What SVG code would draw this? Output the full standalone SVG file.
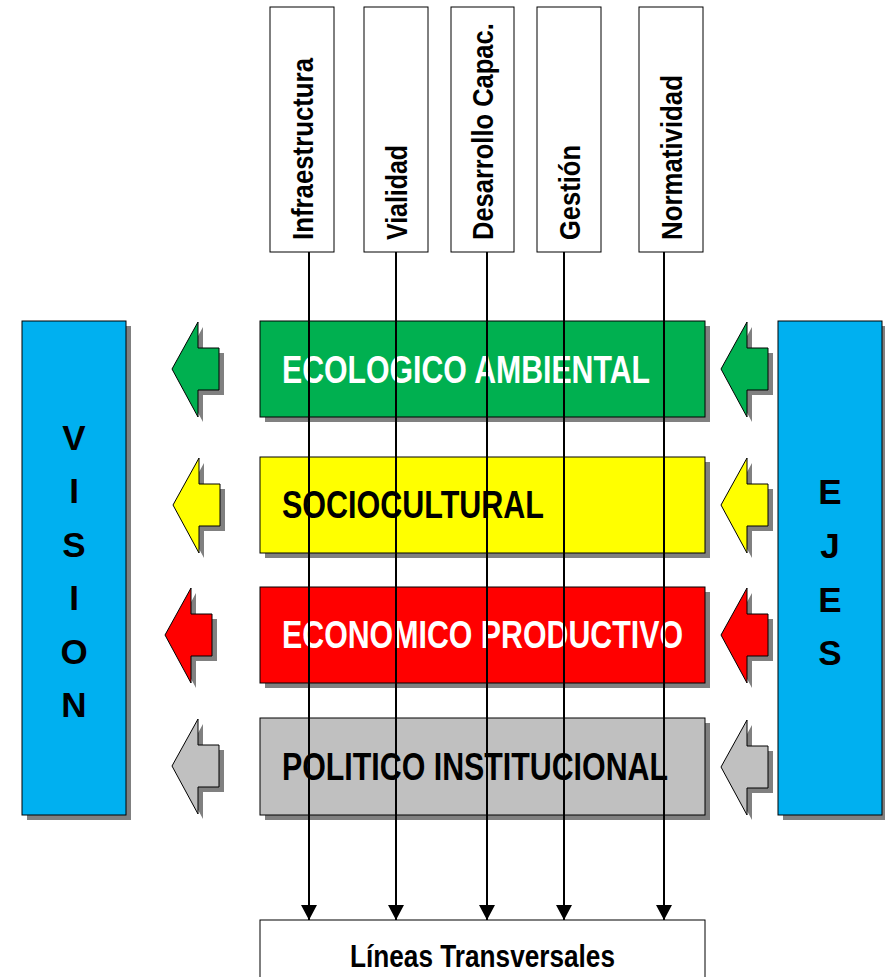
<svg xmlns="http://www.w3.org/2000/svg" width="885" height="977" viewBox="0 0 885 977">
<style>
.box{stroke:#000;stroke-width:1}
.shadow{fill:#808080}
.lbl{font-family:"Liberation Sans",Arial,sans-serif;font-weight:bold}
.big{font-size:39px}
.vert{font-size:30px;fill:#000}
.letter{font-size:35px;fill:#000;text-anchor:middle}
.conn{stroke:#000;stroke-width:2;fill:none}
</style>
<defs>
<path id="arr" d="M0,48 L26,1 L26,27 L47,27 L47,69 L26,69 L26,96 Z"/>
<marker id="ah" markerWidth="15" markerHeight="16" refX="15" refY="8" orient="auto" markerUnits="userSpaceOnUse" viewBox="0 0 15 16">
<path d="M0,0 L15,8 L0,16 Z" fill="#000"/>
</marker>
</defs>
<rect width="885" height="977" fill="#fff"/>

<g id="vision">
<rect class="shadow" x="27" y="326" width="104" height="494"/>
<rect class="box" x="22" y="321" width="104" height="494" fill="#00B0F0"/>
<text class="lbl letter" x="74" y="450">V</text>
<text class="lbl letter" x="74" y="503">I</text>
<text class="lbl letter" x="74" y="557">S</text>
<text class="lbl letter" x="74" y="610">I</text>
<text class="lbl letter" x="74" y="664">O</text>
<text class="lbl letter" x="74" y="717">N</text>
</g>

<g id="ejes">
<rect class="shadow" x="783" y="326" width="104" height="494"/>
<rect class="box" x="778" y="321" width="104" height="494" fill="#00B0F0"/>
<text class="lbl letter" x="830" y="504">E</text>
<text class="lbl letter" x="830" y="558">J</text>
<text class="lbl letter" x="830" y="612">E</text>
<text class="lbl letter" x="830" y="665">S</text>
</g>

<g id="ecologico">
<rect class="shadow" x="265" y="326" width="445" height="96"/>
<rect class="box" x="260" y="321" width="445" height="96" fill="#00B050"/>
<text class="lbl big" x="282" y="383" fill="#fff" textLength="368" lengthAdjust="spacingAndGlyphs">ECOLOGICO AMBIENTAL</text>
</g>
<g id="sociocultural">
<rect class="shadow" x="265" y="462" width="445" height="96"/>
<rect class="box" x="260" y="457" width="445" height="96" fill="#FFFF00"/>
<text class="lbl big" x="282" y="518" fill="#000" textLength="262" lengthAdjust="spacingAndGlyphs">SOCIOCULTURAL</text>
</g>
<g id="economico">
<rect class="shadow" x="265" y="592" width="445" height="96"/>
<rect class="box" x="260" y="587" width="445" height="96" fill="#FF0000"/>
<text class="lbl big" x="282" y="648" fill="#fff" textLength="401" lengthAdjust="spacingAndGlyphs">ECONOMICO PRODUCTIVO</text>
</g>
<g id="politico">
<rect class="shadow" x="265" y="723" width="445" height="97"/>
<rect class="box" x="260" y="718" width="445" height="97" fill="#C0C0C0"/>
<text class="lbl big" x="282" y="780" fill="#000" textLength="386" lengthAdjust="spacingAndGlyphs">POLITICO INSTITUCIONAL</text>
</g>

<g id="arrows-left">
<use href="#arr" x="177" y="326" class="shadow"/>
<use href="#arr" x="172" y="321" fill="#00B050" stroke="#000" stroke-width="1"/>
<use href="#arr" x="178" y="462" class="shadow"/>
<use href="#arr" x="173" y="457" fill="#FFFF00" stroke="#000" stroke-width="1"/>
<use href="#arr" x="170" y="592" class="shadow"/>
<use href="#arr" x="165" y="587" fill="#FF0000" stroke="#000" stroke-width="1"/>
<use href="#arr" x="177" y="723" class="shadow"/>
<use href="#arr" x="172" y="718" fill="#C0C0C0" stroke="#000" stroke-width="1"/>
</g>
<g id="arrows-right">
<use href="#arr" x="726" y="326" class="shadow"/>
<use href="#arr" x="721" y="321" fill="#00B050" stroke="#000" stroke-width="1"/>
<use href="#arr" x="726" y="462" class="shadow"/>
<use href="#arr" x="721" y="457" fill="#FFFF00" stroke="#000" stroke-width="1"/>
<use href="#arr" x="726" y="592" class="shadow"/>
<use href="#arr" x="721" y="587" fill="#FF0000" stroke="#000" stroke-width="1"/>
<use href="#arr" x="726" y="724" class="shadow"/>
<use href="#arr" x="721" y="719" fill="#C0C0C0" stroke="#000" stroke-width="1"/>
</g>

<g id="infraestructura">
<rect class="box" x="270" y="7" width="64" height="245" fill="#fff"/>
<text class="lbl vert" transform="translate(313,240) rotate(-90)" textLength="182" lengthAdjust="spacingAndGlyphs">Infraestructura</text>
</g>
<g id="vialidad">
<rect class="box" x="364" y="7" width="64" height="245" fill="#fff"/>
<text class="lbl vert" transform="translate(406.5,240) rotate(-90)" textLength="95" lengthAdjust="spacingAndGlyphs">Vialidad</text>
</g>
<g id="desarrollo">
<rect class="box" x="451" y="7" width="63" height="245" fill="#fff"/>
<text class="lbl vert" transform="translate(493,240) rotate(-90) scale(0.85,1)">Desarrollo Capac.</text>
</g>
<g id="gestion">
<rect class="box" x="537" y="7" width="64" height="245" fill="#fff"/>
<text class="lbl vert" transform="translate(579.5,240) rotate(-90)" textLength="95" lengthAdjust="spacingAndGlyphs">Gestión</text>
</g>
<g id="normatividad">
<rect class="box" x="639" y="7" width="64" height="245" fill="#fff"/>
<text class="lbl vert" transform="translate(681.5,240) rotate(-90)" textLength="165" lengthAdjust="spacingAndGlyphs">Normatividad</text>
</g>

<g id="lineas">
<rect class="box" x="260" y="920" width="445" height="70" fill="#fff"/>
<text class="lbl" x="350" y="967" font-size="32" fill="#000" textLength="265" lengthAdjust="spacingAndGlyphs">Líneas Transversales</text>
</g>

<g id="connectors">
<line class="conn" x1="309" y1="252" x2="309" y2="920" marker-end="url(#ah)"/>
<line class="conn" x1="396" y1="252" x2="396" y2="920" marker-end="url(#ah)"/>
<line class="conn" x1="487" y1="252" x2="487" y2="920" marker-end="url(#ah)"/>
<line class="conn" x1="564" y1="252" x2="564" y2="920" marker-end="url(#ah)"/>
<line class="conn" x1="664" y1="252" x2="664" y2="920" marker-end="url(#ah)"/>
</g>
</svg>
